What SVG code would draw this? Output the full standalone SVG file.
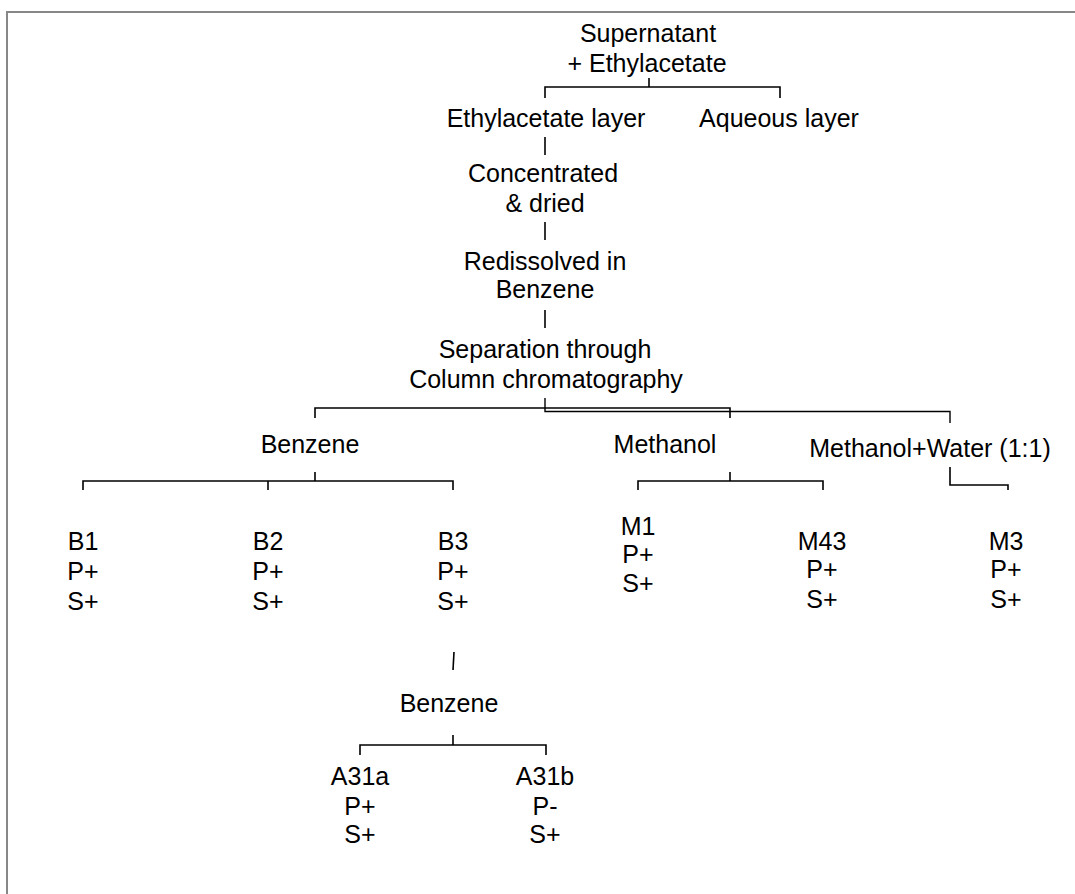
<svg xmlns="http://www.w3.org/2000/svg" width="1075" height="894" viewBox="0 0 1075 894">
<style>
text{font-family:"Liberation Sans",Arial,sans-serif;font-size:25px;fill:#000;text-anchor:middle}
.c path,.c line{fill:none;stroke:#000;stroke-width:1.6}
</style>
<rect width="1075" height="894" fill="#fff"/>
<path d="M7,894 V12 H1075" fill="none" stroke="#888" stroke-width="2"/>
<g class="c" id="connectors">
<path d="M545,98 V87 H780 V98"/><line x1="649" y1="78" x2="649" y2="87"/>
<line x1="545" y1="137" x2="545" y2="155"/>
<line x1="545" y1="222" x2="545" y2="240"/>
<line x1="545" y1="310" x2="545" y2="328"/>
<path d="M315,418 V408 H730 V418"/>
<path d="M545,398 V411.5 H950 V423" style="stroke-width:1.4"/>
<path d="M83,490 V481 H453 V490"/><line x1="268" y1="481" x2="268" y2="490"/><line x1="315" y1="472" x2="315" y2="481"/>
<path d="M638,490 V481 H823 V490"/><line x1="730" y1="472" x2="730" y2="481"/>
<path d="M950,467 V485 H1008 V490"/>
<line x1="454" y1="652" x2="453" y2="670"/>
<path d="M360,755 V745 H546 V755"/><line x1="453" y1="735" x2="453" y2="745"/>
</g>
<g id="supernatant"><text x="648" y="42">Supernatant</text><text x="647" y="72">+ Ethylacetate</text></g>
<g id="ethyl-layer"><text x="546" y="127">Ethylacetate layer</text></g>
<g id="aqueous"><text x="779" y="127">Aqueous layer</text></g>
<g id="concentrated"><text x="543" y="182">Concentrated</text><text x="545" y="212">&amp; dried</text></g>
<g id="redissolved"><text x="545" y="270">Redissolved in</text><text x="545" y="298">Benzene</text></g>
<g id="separation"><text x="545" y="358">Separation through</text><text x="546" y="388">Column chromatography</text></g>
<g id="benzene1"><text x="310" y="453">Benzene</text></g>
<g id="methanol"><text x="665" y="453">Methanol</text></g>
<g id="methanol-water"><text x="930" y="457">Methanol+Water (1:1)</text></g>
<g id="b1"><text x="83" y="550">B1</text><text x="83" y="580">P+</text><text x="83" y="610">S+</text></g>
<g id="b2"><text x="268" y="550">B2</text><text x="268" y="580">P+</text><text x="268" y="610">S+</text></g>
<g id="b3"><text x="453" y="550">B3</text><text x="453" y="580">P+</text><text x="453" y="610">S+</text></g>
<g id="m1"><text x="638" y="535">M1</text><text x="638" y="563">P+</text><text x="638" y="592">S+</text></g>
<g id="m43"><text x="822" y="550">M43</text><text x="822" y="578">P+</text><text x="822" y="608">S+</text></g>
<g id="m3"><text x="1006" y="550">M3</text><text x="1006" y="578">P+</text><text x="1006" y="608">S+</text></g>
<g id="benzene2"><text x="449" y="712">Benzene</text></g>
<g id="a31a"><text x="360" y="785">A31a</text><text x="360" y="815">P+</text><text x="360" y="843">S+</text></g>
<g id="a31b"><text x="545" y="785">A31b</text><text x="545" y="815">P-</text><text x="545" y="843">S+</text></g>
</svg>
